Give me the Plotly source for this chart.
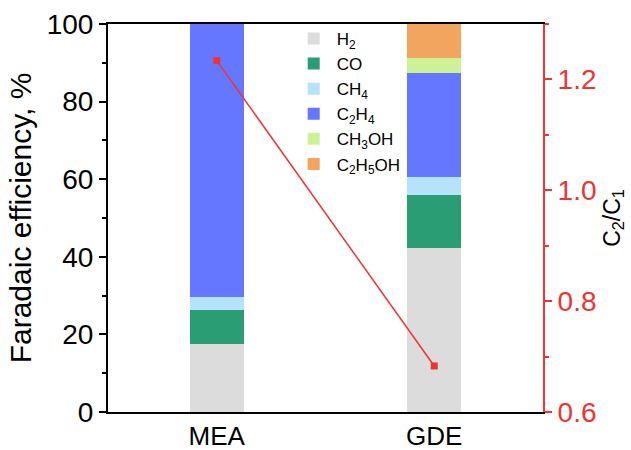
import plotly.graph_objects as go

categories = ["MEA", "GDE"]
species = ["H<sub>2</sub>", "CO", "CH<sub>4</sub>", "C<sub>2</sub>H<sub>4</sub>", "CH<sub>3</sub>OH", "C<sub>2</sub>H<sub>5</sub>OH"]
fe_h2 = [17.6, 42.3]
fe_co = [8.6, 13.7]
fe_ch4 = [3.4, 4.5]
fe_c2h4 = [70.4, 26.9]
fe_ch3oh = [0.0, 3.8]
fe_c2h5oh = [0.0, 8.8]
c2_c1 = [1.234, 0.683]

colors = ["#dcdcdc", "#2a9d74", "#b5e3fd", "#6677ff", "#cdf296", "#f2a55f"]
series = [fe_h2, fe_co, fe_ch4, fe_c2h4, fe_ch3oh, fe_c2h5oh]

FONT = "Liberation Sans, Arial, sans-serif"
RED = "#ee3333"

fig = go.Figure()
for name, vals, col in zip(species, series, colors):
    fig.add_trace(go.Bar(x=categories, y=vals, name=name, marker=dict(color=col, line=dict(width=0)),
                         width=0.25))

fig.add_trace(go.Scatter(x=categories, y=c2_c1, yaxis="y2", mode="lines+markers",
                         line=dict(color=RED, width=1.5), marker=dict(symbol="square", size=7, color=RED),
                         showlegend=False))

fig.update_layout(
    width=631, height=450,
    margin=dict(l=108, r=88, t=24, b=38),
    paper_bgcolor="white", plot_bgcolor="white",
    barmode="stack",
    font=dict(family=FONT, color="black"),
    xaxis=dict(range=[-0.5, 1.5], showline=True, linecolor="black", linewidth=2, mirror=True,
               ticks="", tickfont=dict(size=26), showgrid=False, automargin=False),
    yaxis=dict(range=[0, 100], tickvals=[0, 20, 40, 60, 80, 100], showline=True, linecolor="black",
               linewidth=2, ticks="outside", ticklen=7, tickwidth=2, tickcolor="black",
               minor=dict(tickvals=[10, 30, 50, 70, 90], ticks="outside", ticklen=4, tickwidth=1.5, tickcolor="black"),
               tickfont=dict(size=28), showgrid=False, zeroline=False, automargin=False,
               title=dict(text="Faradaic efficiency, %", font=dict(size=30), standoff=6)),
    yaxis2=dict(range=[0.6, 1.3], overlaying="y", side="right", tickvals=[0.6, 0.8, 1.0, 1.2],
                ticktext=["0.6", "0.8", "1.0", "1.2"],
                showline=True, linecolor=RED, linewidth=2, ticks="outside", ticklen=7, tickwidth=2,
                tickcolor=RED, tickfont=dict(size=28, color=RED),
                minor=dict(tickvals=[0.7, 0.9, 1.1, 1.3], ticks="outside", ticklen=4, tickwidth=1.5, tickcolor=RED),
                showgrid=False, zeroline=False, automargin=False,
                title=dict(text="C<sub>2</sub>/C<sub>1</sub>", font=dict(size=23, color="black"), standoff=8)),
    legend=dict(x=0.42, y=1.008, xanchor="left", yanchor="top", traceorder="normal",
                font=dict(size=17), bgcolor="rgba(0,0,0,0)", tracegroupgap=0, itemwidth=36),
    showlegend=True,
)

fig.write_html("out.html")
